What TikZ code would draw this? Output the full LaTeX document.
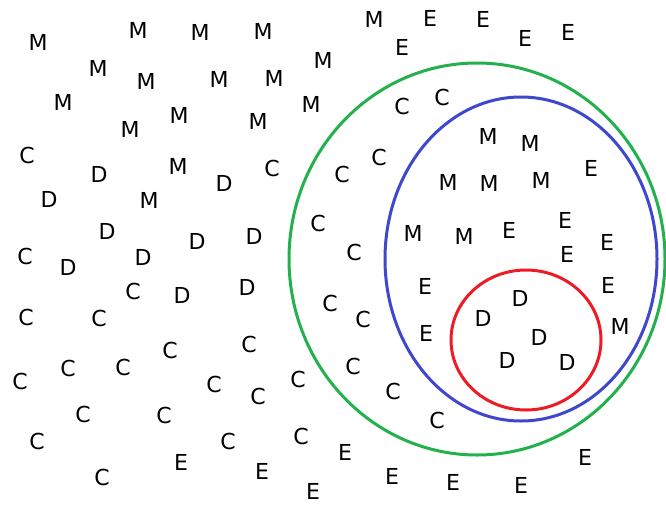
\documentclass[tikz,border=0pt]{standalone}
\usepackage{fontspec}
\setmainfont{DejaVu Sans}
\usetikzlibrary{positioning}
\definecolor{setgreen}{RGB}{34,177,76}
\definecolor{setblue}{RGB}{63,72,204}
\definecolor{setred}{RGB}{237,28,36}

\begin{document}
\begin{tikzpicture}[x=1pt, y=-1pt, font=\fontsize{22}{22}\selectfont,
      ltr/.style={inner sep=0pt, text=black},
      ring/.style={line width=3pt}]
    \useasboundingbox (0,0) rectangle (666,506);
    % the three nested sets
    \draw[ring, setgreen] (477,259) ellipse [x radius=188, y radius=196];
    \draw[ring, setblue]  (521,259) ellipse [x radius=136, y radius=162];
    \draw[ring, setred]   (526,340) ellipse [x radius=75, y radius=70];
    % letters
    \foreach \x/\y [count=\i] in {38/42, 138/30, 200/32, 263/31, 98/68, 146/81,
        219/79, 274/78, 323/60, 63/102, 130/129, 179/115, 258/121, 311/104,
        178/166, 149/200, 374/19, 488/136, 530/143, 448/182, 489/183, 541/180,
        413/233, 464/236, 620/326}
      \node[ltr] (m\i) at (\x,\y) {M};
    \foreach \x/\y [count=\i] in {27/155, 272/168, 342/174, 379/157, 402/106,
        442/97, 318/223, 354/252, 25/256, 133/291, 330/303, 363/319, 26/317,
        99/318, 170/350, 249/344, 20/381, 68/368, 123/367, 214/384, 258/396,
        298/379, 353/366, 393/391, 83/414, 164/415, 37/441, 228/441, 301/436,
        437/420, 102/477}
      \node[ltr] (c\i) at (\x,\y) {C};
    \foreach \x/\y [count=\i] in {99/174, 49/199, 224/183, 107/231, 197/241,
        254/236, 143/257, 68/267, 182/295, 247/287, 520/298, 483/318, 539/337,
        507/360, 567/362}
      \node[ltr] (d\i) at (\x,\y) {D};
    \foreach \x/\y [count=\i] in {430/18, 483/19, 402/47, 525/38, 568/32,
        591/168, 509/230, 565/220, 607/242, 567/254, 425/286, 608/285, 426/333,
        181/462, 262/471, 313/491, 345/452, 392/476, 453/482, 521/485, 585/457}
      \node[ltr] (e\i) at (\x,\y) {E};
\end{tikzpicture}
\end{document}
